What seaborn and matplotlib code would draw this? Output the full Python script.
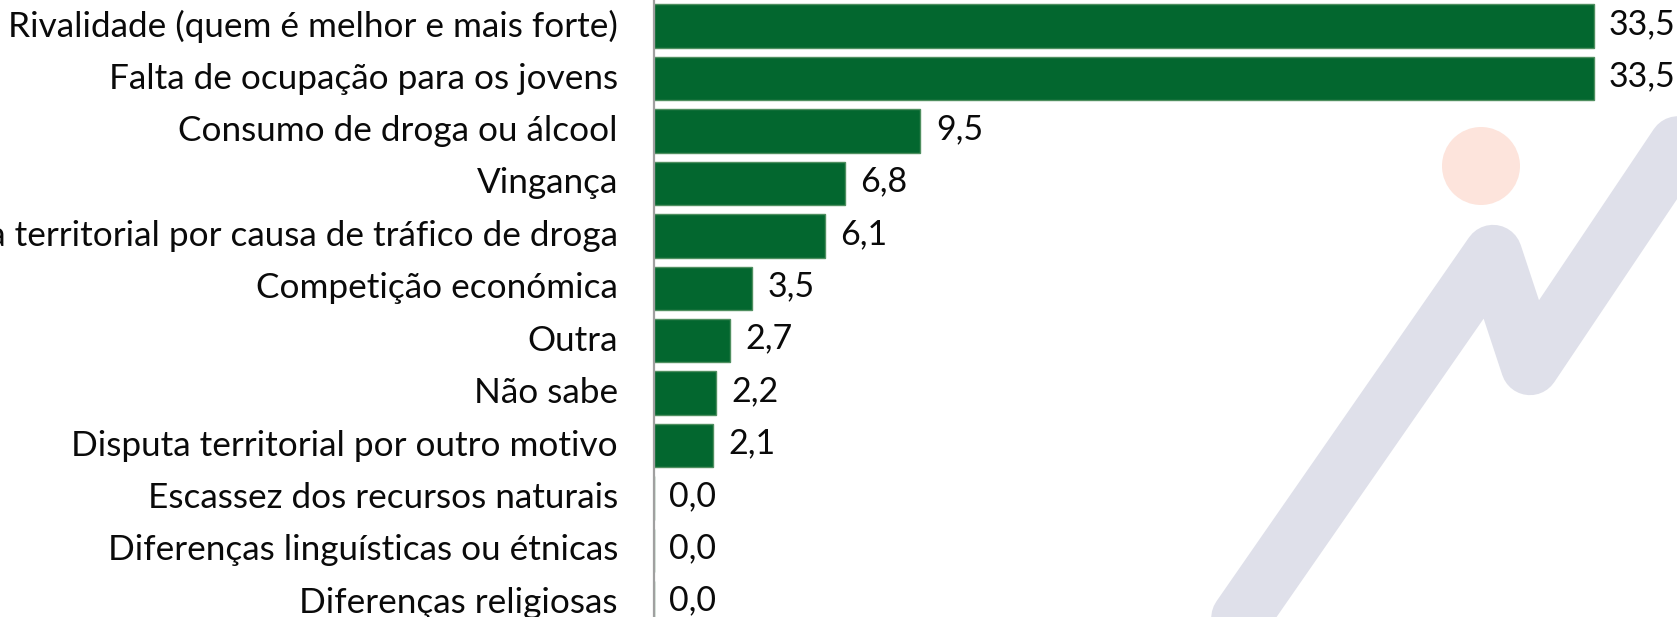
import matplotlib
matplotlib.use("Agg")
import matplotlib.pyplot as plt
import matplotlib.transforms as mtransforms
import seaborn as sns
import pandas as pd
from matplotlib.patches import Circle
from matplotlib.lines import Line2D

categories = [
    "Rivalidade (quem é melhor e mais forte)",
    "Falta de ocupação para os jovens",
    "Consumo de droga ou álcool",
    "Vingança",
    "Disputa territorial por causa de tráfico de droga",
    "Competição económica",
    "Outra",
    "Não sabe",
    "Disputa territorial por outro motivo",
    "Escassez dos recursos naturais",
    "Diferenças linguísticas ou étnicas",
    "Diferenças religiosas",
]
values = [33.5, 33.5, 9.5, 6.8, 6.1, 3.5, 2.7, 2.2, 2.1, 0.0, 0.0, 0.0]

df = pd.DataFrame({"motivo": categories, "pct": values})

sns.set_style("white")
plt.rcParams["font.family"] = ["Lato", "DejaVu Sans"]

W, H = 1677, 617
fig = plt.figure(figsize=(W / 100, H / 100), dpi=100)
fig.patch.set_facecolor("white")

# background logo layer in pixel coordinates
bg = fig.add_axes([0, 0, 1, 1], zorder=0)
bg.set_xlim(0, W)
bg.set_ylim(H, 0)
bg.axis("off")
path_x = [1180, 1493, 1530, 1750]
path_y = [705, 254, 366, 38]
bg.add_line(Line2D(path_x, path_y, color="#dfe0ea", lw=42,
                   solid_capstyle="round", solid_joinstyle="round"))
bg.add_patch(Circle((1481, 166), 39, color="#fde4dc", lw=0))

# main chart
axis_x = 654
ax = fig.add_axes([axis_x / W, 0, (W - axis_x) / W, 1], zorder=1)
ax.patch.set_alpha(0)
sns.barplot(data=df, x="pct", y="motivo", orient="h", color="#03672f",
            saturation=1, width=0.83, edgecolor="#4f8f60", linewidth=1.0, ax=ax)

px_per_unit = 28.05
ax.set_xlim(0, (W - axis_x) / px_per_unit)
ax.set_ylim(11.27, -0.5)

for i, v in enumerate(values):
    ax.annotate(f"{v:.1f}".replace(".", ","), xy=(v, i), xytext=(11, 1.5),
                textcoords="offset points", va="center", ha="left",
                fontsize=24.5, color="#0a0a0a")

ax.set_xlabel("")
ax.set_ylabel("")
ax.set_xticks([])
ax.tick_params(axis="y", length=0, pad=26, labelsize=25.3, labelcolor="#0a0a0a")
lift = mtransforms.ScaledTranslation(0, 3 / 100, fig.dpi_scale_trans)
for lbl in ax.get_yticklabels():
    lbl.set_transform(lbl.get_transform() + lift)
for side in ("top", "right", "bottom"):
    ax.spines[side].set_visible(False)
ax.spines["left"].set_color("#a0a0a0")
ax.spines["left"].set_linewidth(1.6)

fig.savefig("out.png", dpi=100)
